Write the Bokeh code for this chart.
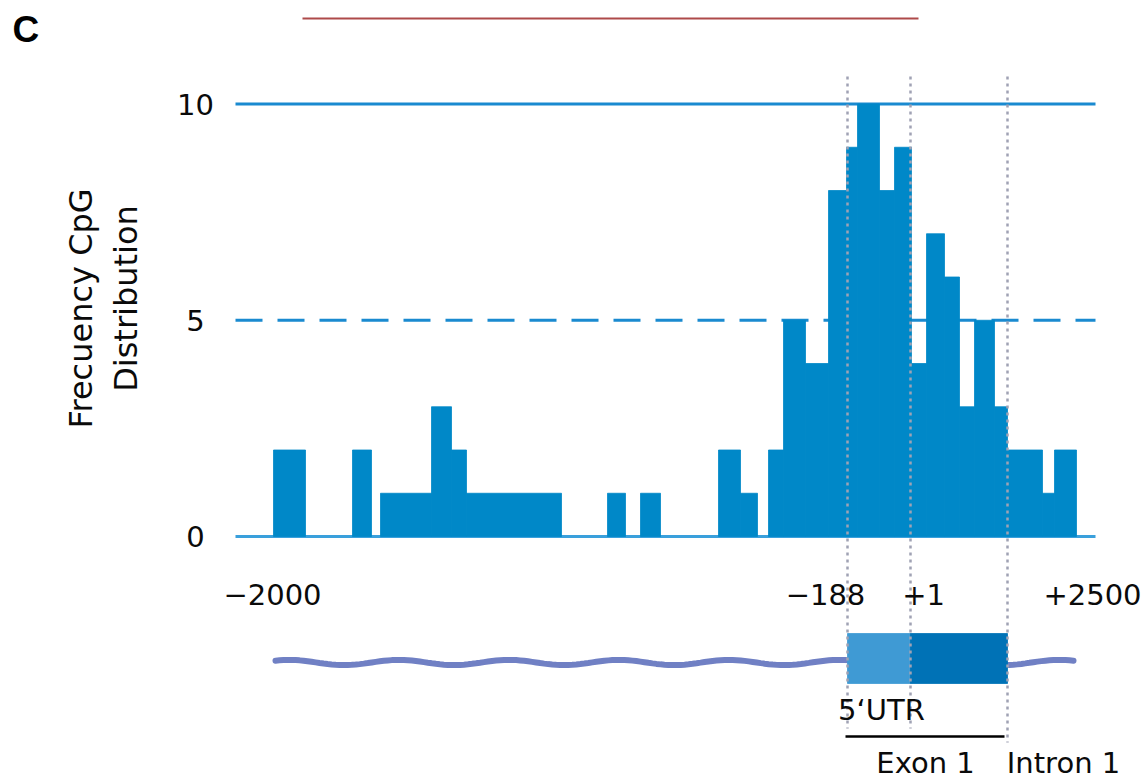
import math
import numpy as np
from bokeh.plotting import figure
from bokeh.models import Range1d
from bokeh.core.properties import value
from bokeh.embed import file_html
from bokeh.resources import INLINE

# ---------------- data (schematic position along the promoter / gene axis) ----------------
bin_left  = [273, 352, 380, 431, 451, 466, 607, 640, 718, 740, 768, 783, 805, 828,
             846, 857, 879, 894, 911, 926, 944, 959, 974, 994, 1007, 1042, 1054]
bin_right = [305, 371, 431, 451, 466, 561, 625, 660, 740, 757, 783, 805, 828, 846,
             857, 879, 894, 911, 926, 944, 959, 974, 994, 1007, 1042, 1054, 1076]
cpg_freq  = [2, 2, 1, 3, 2, 1, 1, 1, 2, 1, 2, 5, 4, 8,
             9, 10, 8, 9, 4, 7, 6, 3, 5, 3, 2, 1, 2]

y_ticks = [0, 5, 10]
x_tick_labels = ["\u22122000", "\u2212188", "+1", "+2500"]
x_tick_pos = [272, 825, 923, 1092]

feature_names = ["5\u2018UTR", "CDS"]
feature_start = [847, 910]
feature_end = [910, 1007]
feature_colors = ["#3f9ad4", "#0072b6"]
boundary_pos = [847, 910, 1007]

# ---------------- layout helpers ----------------
W, H = 1147, 778
Y0_PX, PX_PER_UNIT = 536.0, 43.25


def ypx(px):
    return (Y0_PX - px) / PX_PER_UNIT


p = figure(width=W, height=H, output_backend="svg", toolbar_location=None,
           x_range=Range1d(0, W), y_range=Range1d(ypx(H), ypx(0)),
           x_axis_location=None, y_axis_location=None, min_border=0)
p.grid.visible = False
p.outline_line_color = None
p.background_fill_color = "white"
p.border_fill_color = "white"

FONT = value("DejaVu Sans")
TXT = "#0a0a0a"

# top faint red rule
p.line([302, 918], [ypx(18), ypx(18)], line_color="#a02a2a", line_width=2, line_alpha=0.85)

# reference lines
x_line = [235, 1095]
p.line(x_line, [10, 10], line_color="#1a8ad0", line_width=3)
p.line(x_line, [5, 5], line_color="#1a8ad0", line_width=3, line_dash="27 15")
p.line(x_line, [0, 0], line_color="#3aa0dc", line_width=3)

# histogram bars
p.quad(left=bin_left, right=bin_right, bottom=0, top=cpg_freq,
       fill_color="#0088c8", line_color="#0088c8", line_width=0.8)

# gene schematic: wavy genomic line + exon box
wx = np.linspace(275, 1073, 200)
wy = ypx(662) + 0.06 * np.sin((wx - 275) / 110.0 * 2 * math.pi + 0.8)
p.line(wx, wy, line_color="#7080c4", line_width=6, line_cap="round")
p.quad(left=feature_start, right=feature_end, bottom=ypx(683), top=ypx(633),
       fill_color=feature_colors, line_color=feature_colors, line_width=0.8)

# dotted boundary lines
bottoms = [ypx(728), ypx(728), ypx(742)]
for xb, yb in zip(boundary_pos, bottoms):
    p.line([xb, xb], [ypx(76), yb], line_color="#a0a2b4", line_width=2.5, line_dash="3 4")

# exon bracket
p.line([845, 1004], [ypx(736), ypx(736)], line_color="black", line_width=2.5)

# y tick labels
p.text(x=[195] * len(y_ticks), y=y_ticks, text=[str(t) for t in y_ticks],
       text_align="center", text_baseline="middle", text_font=FONT,
       text_font_size=value("29px"), text_color=TXT)

# x tick labels
p.text(x=x_tick_pos, y=[ypx(594)] * len(x_tick_pos), text=x_tick_labels,
       text_align="center", text_baseline="middle", text_font=FONT,
       text_font_size=value("29px"), text_color=TXT)

# y axis title (two lines, rotated)
p.text(x=[80, 125], y=[ypx(308), ypx(298)], text=["Frecuency CpG", "Distribution"],
       angle=math.pi / 2, text_align="center", text_baseline="middle", text_font=FONT,
       text_font_size=value("32px"), text_color=TXT)

# gene labels
p.text(x=[881], y=[ypx(709)], text=[feature_names[0]], text_align="center",
       text_baseline="middle", text_font=FONT, text_font_size=value("29px"), text_color=TXT)
p.text(x=[925, 1063], y=[ypx(762), ypx(762)], text=["Exon 1", "Intron 1"],
       text_align="center", text_baseline="middle", text_font=FONT,
       text_font_size=value("29px"), text_color=TXT)

# panel letter
p.text(x=[12], y=[ypx(29)], text=["C"], text_align="left", text_baseline="middle",
       text_font=value("Liberation Sans"), text_font_style="bold",
       text_font_size=value("37px"), text_color="black")

open("out.html", "w").write(file_html(p, INLINE))
